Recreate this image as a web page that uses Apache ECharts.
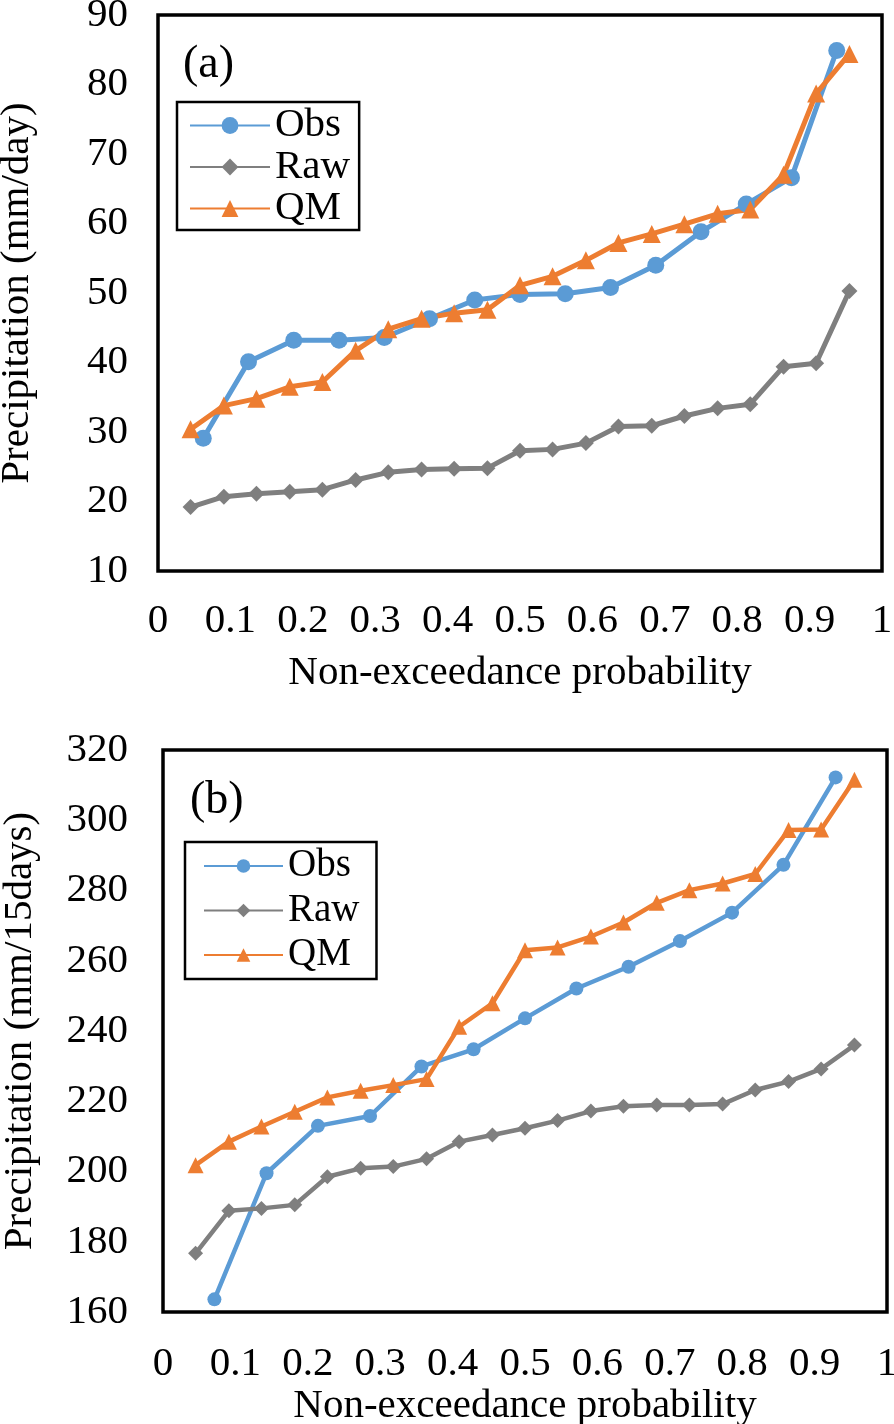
<!DOCTYPE html>
<html>
<head>
<meta charset="utf-8">
<title>Obs / Raw / QM</title>
<script src="https://cdn.jsdelivr.net/npm/echarts@6/dist/echarts.min.js"></script>
<style>
  html, body { margin: 0; padding: 0; background: #fff; }
  #main { width: 894px; height: 1424px; }
</style>
</head>
<body>
<div id="main"></div>
<script>
// plotting positions (non-exceedance probability)
var probN21 = [0.045, 0.091, 0.136, 0.182, 0.227, 0.273, 0.318, 0.364, 0.409, 0.455, 0.500,
               0.545, 0.591, 0.636, 0.682, 0.727, 0.773, 0.818, 0.864, 0.909, 0.955];
var probN15 = [0.0625, 0.125, 0.1875, 0.25, 0.3125, 0.375, 0.4375, 0.5,
               0.5625, 0.625, 0.6875, 0.75, 0.8125, 0.875, 0.9375];
var probN13 = [0.071, 0.143, 0.214, 0.286, 0.357, 0.429, 0.5,
               0.571, 0.643, 0.714, 0.786, 0.857, 0.929];

// (a) precipitation, mm/day
var obsA = [29.1, 40.1, 43.2, 43.2, 43.6, 46.3, 49.0, 49.8, 49.9, 50.8, 54.0, 58.8, 62.8, 66.6, 84.9];
var rawA = [19.2, 20.7, 21.1, 21.4, 21.7, 23.1, 24.2, 24.6, 24.7, 24.8, 27.3,
            27.5, 28.4, 30.8, 30.9, 32.3, 33.4, 34.0, 39.4, 39.9, 50.3];
var qmA  = [30.4, 33.8, 34.8, 36.5, 37.2, 41.7, 44.8, 46.3, 47.1, 47.6, 51.1,
            52.4, 54.7, 57.2, 58.5, 59.9, 61.4, 62.0, 67.0, 78.7, 84.4];

// (b) precipitation, mm/15days
var obsB = [163.6, 199.5, 213.0, 215.8, 229.9, 234.8, 243.6, 252.1, 258.3, 265.6, 273.7, 287.3, 312.2];
var rawB = [176.7, 188.8, 189.5, 190.5, 198.5, 200.9, 201.4, 203.6, 208.5, 210.4, 212.3,
            214.5, 217.2, 218.6, 218.9, 218.9, 219.2, 223.2, 225.6, 229.2, 236.0];
var qmB  = [201.8, 208.5, 212.8, 217.0, 221.1, 223.0, 224.6, 226.3, 241.2, 247.9, 263.0,
            263.8, 266.9, 270.9, 276.5, 280.1, 282.0, 284.7, 297.2, 297.4, 311.5];

var seriesNames = ['Obs', 'Raw', 'QM'];

var FONT = 'Liberation Serif';
var BLUE = '#5B9BD5', GRAY = '#7F7F7F', ORANGE = '#ED7D31';

function pairs(xs, ys) {
  return xs.map(function (x, i) { return [x, ys[i]]; });
}

function lineSeries(name, idx, data, color, symbol, size, width) {
  return {
    name: name,
    type: 'line',
    xAxisIndex: idx,
    yAxisIndex: idx,
    data: data,
    symbol: symbol,
    symbolSize: size,
    showAllSymbol: true,
    color: color,
    lineStyle: { color: color, width: width },
    itemStyle: { color: color },
    emphasis: { disabled: true },
    z: 2
  };
}

function xAxisOf(idx, labelMargin, nameGap) {
  return {
    gridIndex: idx,
    type: 'value',
    min: 0, max: 1, interval: 0.1,
    name: 'Non-exceedance probability',
    nameLocation: 'middle',
    nameGap: nameGap,
    nameTextStyle: { fontFamily: FONT, fontSize: 41, color: '#000' },
    axisLine: { show: false },
    axisTick: { show: false },
    splitLine: { show: false },
    axisLabel: {
      fontFamily: FONT, fontSize: 41, color: '#000', margin: labelMargin,
      showMinLabel: true, showMaxLabel: true,
      formatter: function (v) { return String(+v.toFixed(1)); }
    }
  };
}

function yAxisOf(idx, min, max, interval, name, labelMargin, nameGap) {
  return {
    gridIndex: idx,
    type: 'value',
    min: min, max: max, interval: interval,
    name: name,
    nameLocation: 'middle',
    nameRotate: 90,
    nameGap: nameGap,
    nameTextStyle: { fontFamily: FONT, fontSize: 41, color: '#000' },
    axisLine: { show: false },
    axisTick: { show: false },
    splitLine: { show: false },
    axisLabel: { fontFamily: FONT, fontSize: 41, color: '#000', margin: labelMargin,
                 showMinLabel: true, showMaxLabel: true }
  };
}

var myChart = echarts.init(document.getElementById('main'), null, { renderer: 'canvas' });

myChart.setOption({
  backgroundColor: '#fff',
  animation: false,
  title: [
    { text: '(a)', left: 183, top: 42, padding: 0,
      textStyle: { fontFamily: FONT, fontSize: 46, fontWeight: 'normal', color: '#000' } },
    { text: '(b)', left: 190, top: 778, padding: 0,
      textStyle: { fontFamily: FONT, fontSize: 46, fontWeight: 'normal', color: '#000' } }
  ],
  // fixed plot boxes, no auto-shrinking to keep labels inside
  grid: [
    { left: 158, top: 15, width: 724, height: 556, show: true, outerBoundsMode: 'none',
      borderColor: '#000', borderWidth: 3.5, backgroundColor: 'transparent' },
    { left: 163, top: 750, width: 724, height: 562, show: true, outerBoundsMode: 'none',
      borderColor: '#000', borderWidth: 3.5, backgroundColor: 'transparent' }
  ],
  legend: [
    {
      data: seriesNames,
      orient: 'vertical',
      left: 177, top: 102,
      padding: [3, 9, 1, 12],
      itemGap: 0.5,
      itemWidth: 80,
      itemHeight: 21,
      borderColor: '#000', borderWidth: 2.5,
      selectedMode: false,
      textStyle: { fontFamily: FONT, fontSize: 41, color: '#000', lineHeight: 41 }
    },
    {
      data: seriesNames,
      orient: 'vertical',
      left: 185, top: 842,
      padding: [3, 17, 3, 18],
      itemGap: 2.5,
      itemWidth: 79,
      itemHeight: 17,
      borderColor: '#000', borderWidth: 2.5,
      selectedMode: false,
      textStyle: { fontFamily: FONT, fontSize: 39, color: '#000', lineHeight: 42 }
    }
  ],
  xAxis: [
    xAxisOf(0, 30, 82),
    xAxisOf(1, 32, 71)
  ],
  yAxis: [
    yAxisOf(0, 10, 90, 10, 'Precipitation (mm/day)', 30, 120),
    yAxisOf(1, 160, 320, 20, 'Precipitation (mm/15days)', 35, 122)
  ],
  series: [
    lineSeries('Obs', 0, pairs(probN15, obsA), BLUE, 'circle', 17, 5),
    lineSeries('Raw', 0, pairs(probN21, rawA), GRAY, 'diamond', 16, 5),
    lineSeries('QM', 0, pairs(probN21, qmA), ORANGE, 'triangle', 18, 5),
    lineSeries('Obs', 1, pairs(probN13, obsB), BLUE, 'circle', 14, 4.5),
    lineSeries('Raw', 1, pairs(probN21, rawB), GRAY, 'diamond', 15, 4.5),
    lineSeries('QM', 1, pairs(probN21, qmB), ORANGE, 'triangle', 16, 4.5)
  ]
});
</script>
</body>
</html>
